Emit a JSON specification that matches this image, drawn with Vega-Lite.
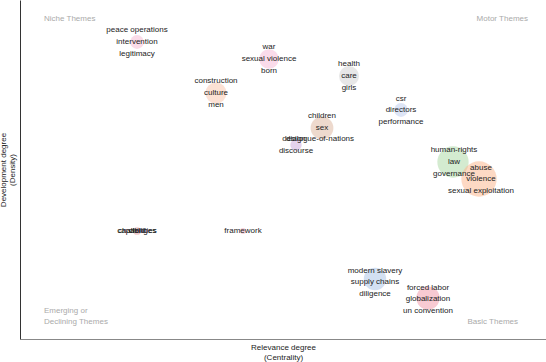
{
  "$schema": "https://vega.github.io/schema/vega-lite/v6.json",
  "width": 526,
  "height": 339,
  "autosize": {"type": "none"},
  "padding": {"left": 20, "top": 0, "right": 0, "bottom": 23},
  "config": {
    "view": {"stroke": null},
    "font": "Liberation Sans",
    "axis": {"grid": false, "ticks": false, "labels": false, "titleFont": "Liberation Sans", "titleFontSize": 8, "titleFontWeight": "normal", "titleColor": "#222"}
  },
  "datasets": {
    "clusters": [
      {"cluster": "peace operations", "x": 117, "y": 297, "freq": 190},
      {"cluster": "war", "x": 249, "y": 280, "freq": 380},
      {"cluster": "health", "x": 329, "y": 263, "freq": 400},
      {"cluster": "construction", "x": 196, "y": 246, "freq": 440},
      {"cluster": "children", "x": 302, "y": 211, "freq": 520},
      {"cluster": "design", "x": 276, "y": 194, "freq": 130},
      {"cluster": "csr", "x": 381, "y": 229, "freq": 190},
      {"cluster": "human-rights", "x": 433, "y": 177, "freq": 980},
      {"cluster": "abuse", "x": 459, "y": 160, "freq": 1250},
      {"cluster": "challenges", "x": 117, "y": 108, "freq": 60},
      {"cluster": "framework", "x": 223, "y": 108, "freq": 35},
      {"cluster": "modern slavery", "x": 355, "y": 60, "freq": 500},
      {"cluster": "forced labor", "x": 408, "y": 41, "freq": 540}
    ],
    "labels": [
      {"word": "peace operations", "x": 117, "y": 309},
      {"word": "intervention", "x": 117, "y": 297},
      {"word": "legitimacy", "x": 117, "y": 285},
      {"word": "war", "x": 249, "y": 292},
      {"word": "sexual violence", "x": 249, "y": 280},
      {"word": "born", "x": 249, "y": 268},
      {"word": "health", "x": 329, "y": 275},
      {"word": "care", "x": 329, "y": 263},
      {"word": "girls", "x": 329, "y": 251},
      {"word": "construction", "x": 196, "y": 258},
      {"word": "culture", "x": 196, "y": 246},
      {"word": "men", "x": 196, "y": 234},
      {"word": "children", "x": 302, "y": 223},
      {"word": "sex", "x": 302, "y": 211},
      {"word": "dialogue-of-nations", "x": 300, "y": 200},
      {"word": "design", "x": 274, "y": 200},
      {"word": "discourse", "x": 276, "y": 188},
      {"word": "csr", "x": 381, "y": 240},
      {"word": "directors", "x": 381, "y": 229},
      {"word": "performance", "x": 381, "y": 217},
      {"word": "human-rights", "x": 434, "y": 189},
      {"word": "law", "x": 434, "y": 177},
      {"word": "governance", "x": 434, "y": 165},
      {"word": "abuse", "x": 461, "y": 171},
      {"word": "violence", "x": 461, "y": 160},
      {"word": "sexual exploitation", "x": 461, "y": 148},
      {"word": "challenges", "x": 117, "y": 108},
      {"word": "capabilities", "x": 117, "y": 108},
      {"word": "child", "x": 117, "y": 108},
      {"word": "framework", "x": 223, "y": 108},
      {"word": "modern slavery", "x": 355, "y": 68},
      {"word": "supply chains", "x": 355, "y": 57},
      {"word": "diligence", "x": 355, "y": 45},
      {"word": "forced labor", "x": 408, "y": 51},
      {"word": "globalization", "x": 408, "y": 40},
      {"word": "un convention", "x": 408, "y": 28}
    ],
    "quadrants": [
      {"q": "Niche Themes", "x": 24, "y": 320, "side": "left"},
      {"q": "Emerging or", "x": 24, "y": 28, "side": "left"},
      {"q": "Declining Themes", "x": 24, "y": 17, "side": "left"},
      {"q": "Motor Themes", "x": 508, "y": 320, "side": "right"},
      {"q": "Basic Themes", "x": 498, "y": 17, "side": "right"}
    ]
  },
  "layer": [
    {
      "mark": {"type": "rule", "color": "#999", "strokeDash": [4, 3], "strokeWidth": 1},
      "encoding": {
        "x": {"datum": 263, "type": "quantitative", "scale": {"domain": [0, 526], "nice": false, "zero": false}, "axis": {"title": ["Relevance degree", "(Centrality)"], "domainColor": "#888", "titlePadding": 4, "titleLineHeight": 10}}
      }
    },
    {
      "mark": {"type": "rule", "color": "#999", "strokeDash": [4, 3], "strokeWidth": 1},
      "encoding": {
        "y": {"datum": 169, "type": "quantitative", "scale": {"domain": [0, 339], "nice": false, "zero": false}, "axis": {"title": ["Development degree", "(Density)"], "domainColor": "#333", "titlePadding": 4, "titleLineHeight": 9}}
      }
    },
    {
      "data": {"name": "clusters"},
      "mark": {"type": "circle", "opacity": 0.5, "stroke": null},
      "encoding": {
        "x": {"field": "x", "type": "quantitative"},
        "y": {"field": "y", "type": "quantitative"},
        "size": {"field": "freq", "type": "quantitative", "scale": {"domain": [0, 1250], "range": [0, 1250], "zero": true}, "legend": null},
        "color": {"field": "cluster", "type": "nominal", "legend": null,
          "scale": {
            "domain": ["peace operations", "war", "health", "construction", "children", "design", "csr", "human-rights", "abuse", "challenges", "framework", "modern slavery", "forced labor"],
            "range": ["#f5b8d2", "#f5b8d6", "#cfcfcf", "#f9c4aa", "#dcb39c", "#c9a8dc", "#bccbed", "#a9d8a2", "#fcb48a", "#e09a9a", "#f0a8b8", "#a8c2e6", "#f295a6"]
          }
        }
      }
    },
    {
      "data": {"name": "labels"},
      "mark": {"type": "text", "fontSize": 8, "fill": "#222", "align": "center", "baseline": "middle"},
      "encoding": {
        "x": {"field": "x", "type": "quantitative"},
        "y": {"field": "y", "type": "quantitative"},
        "text": {"field": "word"}
      }
    },
    {
      "data": {"name": "quadrants"},
      "transform": [{"filter": "datum.side == 'left'"}],
      "mark": {"type": "text", "fontSize": 8, "fill": "#aaa", "align": "left", "baseline": "middle"},
      "encoding": {
        "x": {"field": "x", "type": "quantitative"},
        "y": {"field": "y", "type": "quantitative"},
        "text": {"field": "q"}
      }
    },
    {
      "data": {"name": "quadrants"},
      "transform": [{"filter": "datum.side == 'right'"}],
      "mark": {"type": "text", "fontSize": 8, "fill": "#aaa", "align": "right", "baseline": "middle"},
      "encoding": {
        "x": {"field": "x", "type": "quantitative"},
        "y": {"field": "y", "type": "quantitative"},
        "text": {"field": "q"}
      }
    }
  ]
}
